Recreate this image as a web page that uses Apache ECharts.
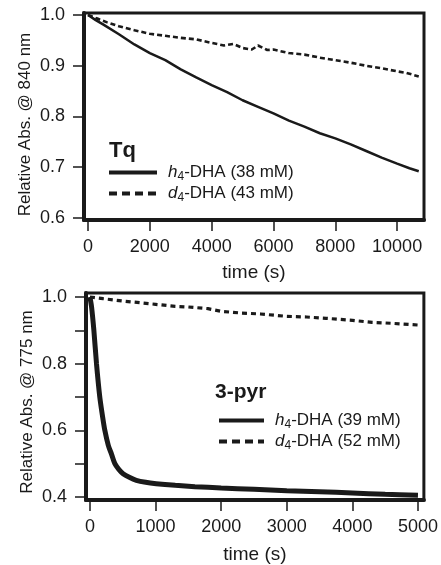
<!DOCTYPE html>
<html>
<head>
<meta charset="utf-8">
<script src="https://cdn.jsdelivr.net/npm/echarts@6/dist/echarts.min.js"></script>
<style>html,body{margin:0;padding:0;background:#fff}#c{width:441px;height:565px}</style>
</head>
<body>
<div id="c"></div>
<script>
// ---- data: top panel (Tq) ----
var topH4 = [[0,1.0],[250,0.99],[500,0.981],[1000,0.962],[1500,0.942],[2000,0.925],[2500,0.911],[3000,0.893],[3500,0.877],[4000,0.862],[4500,0.848],[5000,0.832],[5500,0.819],[6000,0.806],[6500,0.792],[7000,0.780],[7500,0.767],[8000,0.757],[8500,0.745],[9000,0.732],[9500,0.719],[10000,0.707],[10400,0.698],[10700,0.692]];
var topD4 = [[0,1.0],[300,0.993],[600,0.986],[1000,0.978],[1500,0.970],[2000,0.963],[2500,0.959],[3000,0.955],[3500,0.952],[4000,0.945],[4400,0.940],[4700,0.943],[5000,0.935],[5300,0.932],[5500,0.940],[5800,0.931],[6000,0.932],[6500,0.925],[7000,0.922],[7500,0.916],[8000,0.911],[8500,0.906],[9000,0.900],[9500,0.895],[10000,0.889],[10300,0.886],[10700,0.879]];
// ---- data: bottom panel (3-pyr) ----
var botH4 = [[0,1.0],[25,0.97],[60,0.9],[100,0.8],[150,0.7],[190,0.645],[227,0.6],[280,0.555],[330,0.528],[380,0.5],[440,0.483],[505,0.47],[600,0.459],[707,0.45],[850,0.444],[1010,0.44],[1300,0.435],[1600,0.431],[2000,0.427],[2500,0.423],[3000,0.419],[3500,0.416],[4000,0.412],[4500,0.408],[5000,0.405]];
var botD4 = [[0,1.0],[200,0.995],[500,0.988],[800,0.982],[1000,0.978],[1300,0.972],[1500,0.97],[1800,0.965],[2000,0.957],[2300,0.952],[2600,0.949],[3000,0.942],[3300,0.94],[3600,0.936],[4000,0.93],[4300,0.924],[4600,0.921],[5000,0.916]];
// ---- ticks / labels ----
var topXTicks = [0,2000,4000,6000,8000,10000];
var topYTicks = [0.6,0.7,0.8,0.9,1.0];
var botXTicks = [0,1000,2000,3000,4000,5000];
var botYTicks = [0.4,0.5,0.6,0.7,0.8,0.9,1.0];
var botYLabels = [0.4,0.6,0.8,1.0];
var topTitle = 'Tq', botTitle = '3-pyr';
var topNames = ['h4-DHA (38 mM)','d4-DHA (43 mM)'];
var botNames = ['h4-DHA (39 mM)','d4-DHA (52 mM)'];
var xName = 'time (s)';
var topYName = 'Relative Abs. @ 840 nm';
var botYName = 'Relative Abs. @ 775 nm';

var FONT = 'Liberation Sans, Arial, Helvetica, sans-serif';
var INK = '#1a1a1a';

function legendFmt(name){
  return '{i|' + name.charAt(0) + '}{s|' + name.charAt(1) + '}{n|' + name.slice(2) + '}';
}
var legendRich = {
  i:{fontStyle:'italic',fontSize:17,fontFamily:FONT,color:INK,lineHeight:20},
  s:{fontSize:12,fontFamily:FONT,color:INK,padding:[9,0,0,0],lineHeight:20},
  n:{fontSize:17,fontFamily:FONT,color:INK,lineHeight:20}
};

function xAxisDef(gi,min,max,ticks,gap){
  return {
    type:'value', gridIndex:gi, min:min, max:max,
    splitLine:{show:false},
    axisLine:{show:true,onZero:false,lineStyle:{color:INK,width:4}},
    axisTick:{show:true,length:11,lineStyle:{color:INK,width:1.5},customValues:ticks},
    axisLabel:{fontSize:18,fontFamily:FONT,color:INK,margin:18,customValues:ticks,
      formatter:function(v){return String(Math.round(v));}},
    name:xName, nameLocation:'middle', nameGap:gap, nameMoveOverlap:false,
    nameTextStyle:{fontSize:19,fontFamily:FONT,color:INK}
  };
}
function yAxisDef(gi,min,max,ticks,labels,name,shift){
  return {
    type:'value', gridIndex:gi, min:min, max:max,
    splitLine:{show:false},
    axisLine:{show:true,onZero:false,lineStyle:{color:INK,width:4}},
    axisTick:{show:true,length:11,lineStyle:{color:INK,width:1.5},customValues:ticks},
    axisLabel:{fontSize:18,fontFamily:FONT,color:INK,margin:19,customValues:labels,
      formatter:function(v){return v.toFixed(1);}},
    name:name, nameLocation:'middle', nameGap:50, nameMoveOverlap:false,
    nameTextStyle:{fontSize:17,fontFamily:FONT,color:INK,padding:[0,shift,0,0]}
  };
}
var hideSym = {opacity:0};

var chart = echarts.init(document.getElementById('c'),null,{renderer:'canvas'});
chart.setOption({
  animation:false,
  backgroundColor:'#fff',
  title:[
    {text:topTitle,left:104,top:135,textStyle:{fontSize:22,fontWeight:'bold',fontFamily:FONT,color:INK}},
    {text:botTitle,left:210,top:377,textStyle:{fontSize:21,fontWeight:'bold',fontFamily:FONT,color:INK}}
  ],
  grid:[
    {left:84,right:17,top:13,height:207,show:true,borderColor:INK,borderWidth:3,backgroundColor:'transparent'},
    {left:86,right:16,top:293,height:209,show:true,borderColor:INK,borderWidth:3,backgroundColor:'transparent'}
  ],
  xAxis:[xAxisDef(0,-130,10870,topXTicks,43), xAxisDef(1,-60,5090,botXTicks,45)],
  yAxis:[yAxisDef(0,0.596,1.004,topYTicks,topYTicks,topYName,16), yAxisDef(1,0.391,1.012,botYTicks,botYLabels,botYName,11)],
  legend:[
    {orient:'vertical',left:102,top:157,itemWidth:48,itemHeight:14,itemGap:0,
     data:[{name:topNames[0],itemStyle:hideSym,lineStyle:{width:4,type:'solid',color:INK}},{name:topNames[1],itemStyle:hideSym,lineStyle:{width:4,type:[8,5],color:INK}}],
     formatter:legendFmt,textStyle:{rich:legendRich,padding:[0,0,0,6]},selectedMode:false},
    {orient:'vertical',left:212,top:405,itemWidth:45,itemHeight:14,itemGap:0,
     data:[{name:botNames[0],itemStyle:hideSym,lineStyle:{width:4,type:'solid',color:INK}},{name:botNames[1],itemStyle:hideSym,lineStyle:{width:4,type:[8,5],color:INK}}],
     formatter:legendFmt,textStyle:{rich:legendRich,padding:[0,0,0,6]},selectedMode:false}
  ],
  series:[
    {name:topNames[0],type:'line',xAxisIndex:0,yAxisIndex:0,data:topH4,symbol:'none',
     lineStyle:{color:INK,width:2.5,type:'solid'},itemStyle:{color:INK}},
    {name:topNames[1],type:'line',xAxisIndex:0,yAxisIndex:0,data:topD4,symbol:'none',
     lineStyle:{color:INK,width:2.6,type:[5,3]},itemStyle:{color:INK}},
    {name:botNames[0],type:'line',xAxisIndex:1,yAxisIndex:1,data:botH4,symbol:'none',smooth:0.3,
     lineStyle:{color:INK,width:5,type:'solid'},itemStyle:{color:INK}},
    {name:botNames[1],type:'line',xAxisIndex:1,yAxisIndex:1,data:botD4,symbol:'none',
     lineStyle:{color:INK,width:3.2,type:[5,4]},itemStyle:{color:INK}}
  ]
});
</script>
</body>
</html>
